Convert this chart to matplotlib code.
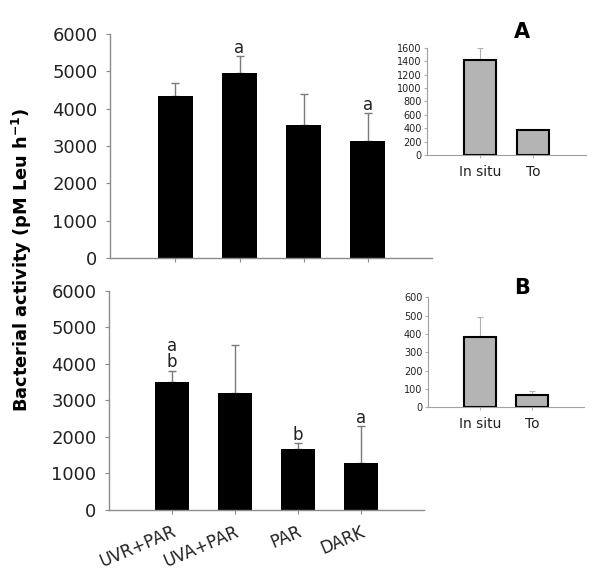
import matplotlib
matplotlib.use('Agg')
import matplotlib.pyplot as plt
import numpy as np

# main panels
categories = ['UVR+PAR', 'UVA+PAR', 'PAR', 'DARK']
top_values = [4330, 4950, 3560, 3120]
top_errors = [370, 450, 820, 760]
top_letters = ['', 'a', '', 'a']
bottom_values = [3520, 3200, 1660, 1280]
bottom_errors = [300, 1320, 170, 1020]
bottom_letters = ['a\nb', '', 'b', 'a']

# insets
inset_categories = ['In situ', 'To']
inset_a_values = [1410, 375]
inset_a_errors = [180, 0]
inset_b_values = [385, 65]
inset_b_errors = [108, 26]

spine_color = '#8c8c8c'
err_color = '#7a7a7a'
text_color = '#222222'

fig = plt.figure(figsize=(6.01, 5.72), dpi=100)


def main_panel(rect, values, errors, letters, xlim, show_labels):
    ax = fig.add_axes(rect)
    x = np.arange(len(values))
    ax.bar(x, values, width=0.55, color='black', zorder=2)
    ax.errorbar(x, values, yerr=[np.zeros(len(errors)), errors], fmt='none',
                ecolor=err_color, elinewidth=1.0, capsize=3, capthick=1.0, zorder=1)
    for xi, v, e, lab in zip(x, values, errors, letters):
        if lab:
            ax.text(xi, v + e - 20, lab, ha='center', va='bottom', fontsize=12,
                    linespacing=0.9, color=text_color)
    ax.set_xlim(*xlim)
    ax.set_ylim(0, 6000)
    ax.set_yticks(np.arange(0, 6001, 1000))
    ax.tick_params(axis='y', labelsize=13, length=3, color=spine_color, pad=6,
                   labelcolor=text_color)
    ax.set_xticks(x)
    if show_labels:
        ax.set_xticklabels(categories, rotation=23, ha='right', rotation_mode='anchor',
                           fontsize=12, color=text_color)
    else:
        ax.set_xticklabels([])
    ax.tick_params(axis='x', length=3, color=spine_color, direction='out', pad=6)
    for s in ['top', 'right']:
        ax.spines[s].set_visible(False)
    for s in ['left', 'bottom']:
        ax.spines[s].set_color(spine_color)
        ax.spines[s].set_linewidth(1.0)
    return ax


def inset_panel(rect, values, errors, ymax, step):
    ax = fig.add_axes(rect)
    x = np.arange(len(values))
    ax.bar(x, values, width=0.62, color='#b4b4b4', edgecolor='black', linewidth=1.5,
           zorder=2)
    ax.errorbar(x, values, yerr=[np.zeros(len(errors)), errors], fmt='none',
                ecolor='#b0b0b0', elinewidth=0.8, capsize=2, capthick=0.8, zorder=1)
    ax.set_xlim(-1, 2)
    ax.set_ylim(0, ymax)
    ax.set_yticks(np.arange(0, ymax + 1, step))
    ax.tick_params(axis='y', labelsize=7, length=2, color='#b0b0b0', pad=2,
                   labelcolor=text_color)
    ax.set_xticks(x)
    ax.set_xticklabels(inset_categories, fontsize=10, color=text_color)
    ax.tick_params(axis='x', length=2, color='#b0b0b0', pad=5)
    for s in ['top', 'right']:
        ax.spines[s].set_visible(False)
    for s in ['left', 'bottom']:
        ax.spines[s].set_color('#a0a0a0')
        ax.spines[s].set_linewidth(0.8)
    return ax


main_panel([0.183, 0.549, 0.5358, 0.3916], top_values, top_errors, top_letters,
           (-1.02, 4.0), False)
main_panel([0.1814, 0.1084, 0.524, 0.3829], bottom_values, bottom_errors, bottom_letters,
           (-1.0, 4.0), True)

inset_panel([0.7105, 0.729, 0.2646, 0.1876], inset_a_values, inset_a_errors, 1600, 200)
inset_panel([0.712, 0.288, 0.26, 0.1923], inset_b_values, inset_b_errors, 600, 100)

fig.text(521.7 / 601, 1 - 32.3 / 572, 'A', fontsize=15, fontweight='bold',
         ha='center', va='center')
fig.text(521.7 / 601, 1 - 288 / 572, 'B', fontsize=15, fontweight='bold',
         ha='center', va='center')

fig.text(22 / 601, 1 - 260 / 572, 'Bacterial activity (pM Leu h$^{\\mathbf{-1}}$)',
         fontsize=12.8, fontweight='bold', rotation=90, ha='center', va='center')

fig.savefig('out.png', dpi=100)
